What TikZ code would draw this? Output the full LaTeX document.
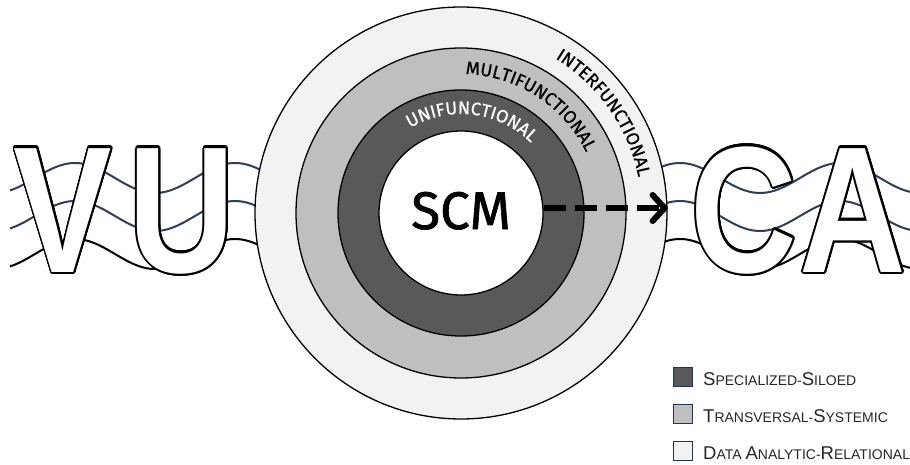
\documentclass[tikz,border=0pt]{standalone}
\usepackage{fontspec}
\setmainfont{Fira Sans}
\newfontfamily\ringfont{Fira Sans}[FakeBold=0.6]
\newfontfamily\scmfont{Fira Sans}[FakeBold=1.2]
\newfontfamily\legendfont{Liberation Sans}
\newfontfamily\blockfont{Liberation Sans}
\usepackage{graphicx}
\usepackage{contour}
\usetikzlibrary{decorations.text,arrows.meta}

\contourlength{2.1pt}
\contournumber{32}

\definecolor{wavenavy}{RGB}{44,62,92}
\definecolor{legendnavy}{RGB}{31,52,96}
\definecolor{ringlight}{RGB}{242,242,242}
\definecolor{ringmid}{RGB}{191,191,191}
\definecolor{ringdark}{RGB}{89,89,89}
\definecolor{legendtext}{RGB}{38,38,38}

% outlined block letter: white body, black rim
\newcommand{\blockletter}[1]{\scalebox{0.82}[1]{\fontsize{180}{180}\blockfont\bfseries\color{white}\contour{black}{#1}}}
% hand-made small caps for the legend
\newcommand{\capl}[1]{{\fontsize{18.5}{18.5}\selectfont #1}}
\newcommand{\ringsize}{\ringfont\fontsize{18}{18}\selectfont}

\tikzset{
  wave/.style={line width=2pt},
  ring/.style={circle, draw=black, line width=1.3pt, inner sep=0pt},
  letter/.style={anchor=base, inner sep=0pt},
  legendbox/.style={draw=legendnavy, line width=1.3pt, minimum size=19pt, inner sep=0pt},
  legendlabel/.style={anchor=base west, inner sep=0pt, text=legendtext,
      font=\legendfont\fontsize{14}{14}\selectfont},
}

\begin{document}
\begin{tikzpicture}[x=1pt,y=-1pt]
\useasboundingbox (0,0) rectangle (910,465);

% wave lines behind the letters and the rings
\foreach \dy/\col in {0/wavenavy,38/wavenavy,76/black}{
  \draw[wave,\col] plot[domain=10:300,samples=60,smooth]
      (\x,{178+\dy-15*cos(((\x-75)/160)*360)});
  \draw[wave,\col] plot[domain=620:912,samples=60,smooth]
      (\x,{178+\dy-15*cos(((\x-680)/160)*360)});
}

% block letters
\node[letter] (lv) at (63,272) {\blockletter{V}};
\node[letter] (lu) at (182,272) {\blockletter{U}};
\node[letter] (lc) at (744,272) {\blockletter{C}};
\node[letter] (la) at (853,272) {\blockletter{A}};

% concentric rings
\node[ring, fill=ringlight, minimum size=412pt] (outer) at (461,213) {};
\node[ring, fill=ringmid, minimum size=330pt] (mid) at (461,213) {};
\node[ring, fill=ringdark, minimum size=246pt] (inner) at (461,213) {};
\node[ring, fill=white, minimum size=164pt, font=\scmfont\fontsize{53}{53}\selectfont] (scm) at (461,213) {\raisebox{5pt}{SCM}};

% curved ring labels
\path[decorate, decoration={text along path, text align=center, text color=white,
      text={|\ringsize|UNIFUNCTIONAL}}]
  (inner.center) ++(145:99pt) arc[start angle=145, end angle=21, radius=99pt];
\path[decorate, decoration={text along path, text align=center,
      text={|\ringsize|MULTIFUNCTIONAL}}]
  (inner.center) ++(122:139pt) arc[start angle=122, end angle=-8, radius=139pt];
\path[decorate, decoration={text along path, text align=center,
      text={|\ringsize|INTERFUNCTIONAL}}]
  (inner.center) ++(92:181pt) arc[start angle=92, end angle=-22, radius=181pt];

% dashed arrow from the core to the outer rim
\draw[line width=6pt, dash pattern=on 22pt off 9pt,
      -{Straight Barb[length=12pt,width=26pt,round]}] ([yshift=5pt]scm.east) -- ([yshift=5pt]outer.east);

% legend
\node[legendbox, fill=ringdark] (k1) at (683,377) {};
\node[legendbox, fill=ringmid] (k2) at (683,414) {};
\node[legendbox, fill=ringlight] (k3) at (683,451) {};
\node[legendlabel] (t1) at (703,385) {\capl{S}PECIALIZED-\capl{S}ILOED};
\node[legendlabel] (t2) at (703,422) {\capl{T}RANSVERSAL-\capl{S}YSTEMIC};
\node[legendlabel] (t3) at (703,459) {\capl{D}ATA \capl{A}NALYTIC-\capl{R}ELATIONAL};
\end{tikzpicture}
\end{document}
